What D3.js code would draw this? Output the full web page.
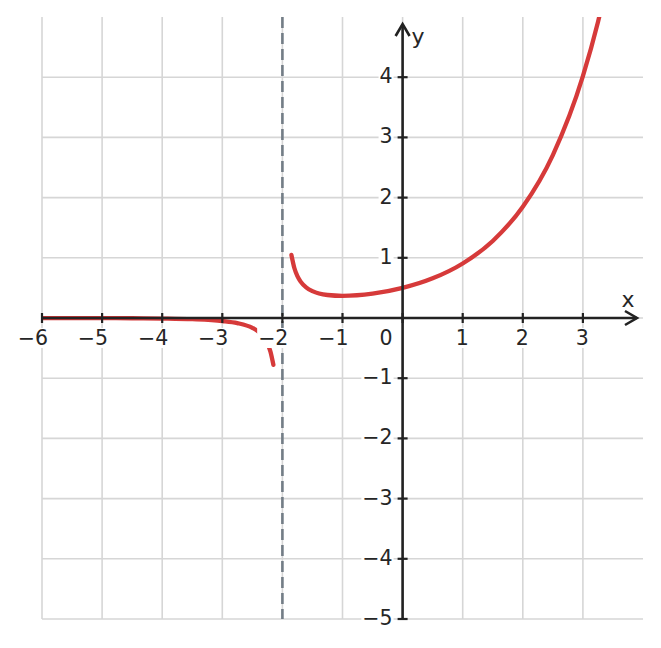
<!DOCTYPE html>
<html>
<head>
<meta charset="utf-8">
<script src="https://cdn.jsdelivr.net/npm/d3@7"></script>
<style>
  body { margin: 0; background: #fff; }
  text { font-family: "DejaVu Sans", sans-serif; fill: #262626; }
</style>
</head>
<body>
<svg width="661" height="648"></svg>
<script>
// tick values
let xTicks = [-6, -5, -4, -3, -2, -1, 1, 2, 3];
let yTicks = [-5, -4, -3, -2, -1, 1, 2, 3, 4];
let xGrid = [-6, -5, -4, -3, -2, -1, 0, 1, 2, 3];
let yGrid = [-5, -4, -3, -2, -1, 0, 1, 2, 3, 4];
let asymptoteX = -2;

// left branch
let leftX = [-6, -5, -4.5, -4, -3.5, -3, -2.75, -2.5, -2.4, -2.3, -2.25, -2.2, -2.15];
let leftY = [-0.001, -0.002, -0.004, -0.009, -0.02, -0.05, -0.085, -0.164, -0.227, -0.334, -0.42, -0.554, -0.777];

// right branch
let rightX = [-1.85, -1.8, -1.75, -1.7, -1.6, -1.5, -1.25, -1, -0.5, 0, 0.5, 1, 1.5, 2, 2.5, 3, 3.25, 3.35];
let rightY = [1.048, 0.826, 0.695, 0.609, 0.505, 0.446, 0.382, 0.368, 0.404, 0.5, 0.659, 0.906, 1.28, 1.847, 2.707, 4.017, 4.912, 5.33];

let svg = d3.select('svg');

let x = d3.scaleLinear().domain([-6, 4]).range([42, 643]);
let y = d3.scaleLinear().domain([-5, 5]).range([619, 17]);

svg.append('clipPath').attr('id', 'plot')
   .append('rect')
   .attr('x', x(-6)).attr('y', y(5))
   .attr('width', x(4) - x(-6)).attr('height', y(-5) - y(5));

// grid
svg.append('g').selectAll('line.v')
   .data(xGrid).enter().append('line')
   .attr('x1', d => x(d)).attr('x2', d => x(d))
   .attr('y1', y(5)).attr('y2', y(-5))
   .attr('stroke', '#d6d6d6').attr('stroke-width', 1.6);

svg.append('g').selectAll('line.h')
   .data(yGrid).enter().append('line')
   .attr('x1', x(-6)).attr('x2', x(4))
   .attr('y1', d => y(d)).attr('y2', d => y(d))
   .attr('stroke', '#d6d6d6').attr('stroke-width', 1.6);

// asymptote
svg.append('line')
   .attr('x1', x(asymptoteX)).attr('x2', x(asymptoteX))
   .attr('y1', y(5)).attr('y2', y(-5))
   .attr('stroke', '#737d86').attr('stroke-width', 2.6)
   .attr('stroke-dasharray', '11,5');

// curves
let line = d3.line()
    .x(d => x(d[0]))
    .y(d => y(d[1]))
    .curve(d3.curveMonotoneX);

let curves = svg.append('g').attr('clip-path', 'url(#plot)');
[[leftX, leftY], [rightX, rightY]].forEach(b => {
  curves.append('path')
     .datum(b[0].map((v, i) => [v, b[1][i]]))
     .attr('d', line)
     .attr('fill', 'none')
     .attr('stroke', '#d63a3a')
     .attr('stroke-width', 4.3)
     .attr('stroke-linecap', 'round');
});

// axes
let axisColor = '#222';
let ax = svg.append('g');
ax.append('line')
  .attr('x1', x(-6)).attr('x2', 637)
  .attr('y1', y(0)).attr('y2', y(0))
  .attr('stroke', axisColor).attr('stroke-width', 2.6);
ax.append('path')
  .attr('d', 'M' + (637 - 12) + ',' + (y(0) - 7) + 'L637,' + y(0) + 'L' + (637 - 12) + ',' + (y(0) + 7))
  .attr('fill', 'none').attr('stroke', axisColor).attr('stroke-width', 2.6);
ax.append('line')
  .attr('x1', x(0)).attr('x2', x(0))
  .attr('y1', y(-5)).attr('y2', 24)
  .attr('stroke', axisColor).attr('stroke-width', 2.6);
ax.append('path')
  .attr('d', 'M' + (x(0) - 7) + ',36L' + x(0) + ',24L' + (x(0) + 7) + ',36')
  .attr('fill', 'none').attr('stroke', axisColor).attr('stroke-width', 2.6);

ax.selectAll('line.xt').data(xTicks.concat([0])).enter().append('line')
  .attr('x1', d => x(d)).attr('x2', d => x(d))
  .attr('y1', y(0) - 5).attr('y2', y(0) + 5)
  .attr('stroke', axisColor).attr('stroke-width', 2.2);
ax.selectAll('line.yt').data(yTicks).enter().append('line')
  .attr('x1', x(0) - 5).attr('x2', x(0) + 5)
  .attr('y1', d => y(d)).attr('y2', d => y(d))
  .attr('stroke', axisColor).attr('stroke-width', 2.2);

// labels with white boxes
let fmt = d => d < 0 ? '\u2212' + Math.abs(d) : String(d);
function label(tx, ty, str, anchor) {
  let g = svg.append('g');
  let r = g.append('rect').attr('fill', '#fff');
  let t = g.append('text')
    .attr('x', tx).attr('y', ty)
    .attr('text-anchor', anchor)
    .attr('dominant-baseline', 'central')
    .attr('font-size', 20.5)
    .text(str);
  let b = t.node().getBBox();
  r.attr('x', b.x - 1).attr('y', b.y + 2).attr('width', b.width + 2).attr('height', b.height - 4);
}

xTicks.forEach(d => label(x(d) + 6, 338, fmt(d), 'end'));
yTicks.forEach(d => label(x(0) - 10, y(d) - 1, fmt(d), 'end'));
label(x(0) - 10, 338, '0', 'end');

svg.append('text').attr('x', 628).attr('y', 299)
   .attr('text-anchor', 'middle').attr('dominant-baseline', 'central')
   .attr('font-size', 22).text('x');
svg.append('text').attr('x', 418).attr('y', 36)
   .attr('text-anchor', 'middle').attr('dominant-baseline', 'central')
   .attr('font-size', 22).text('y');
</script>
</body>
</html>
